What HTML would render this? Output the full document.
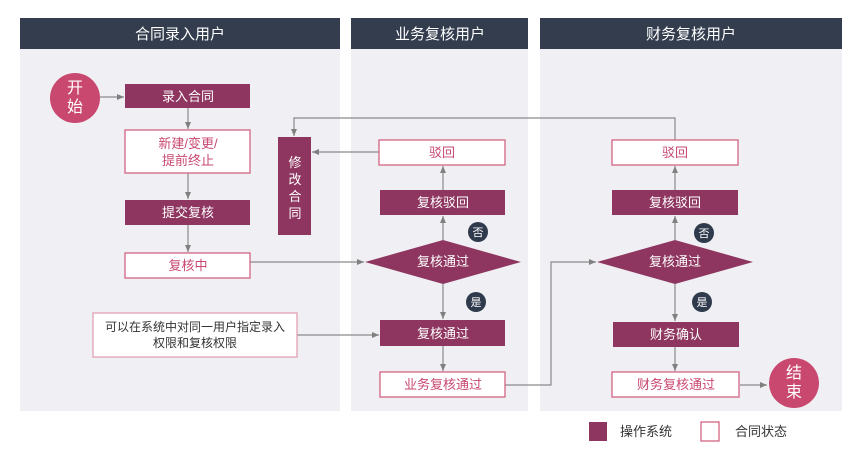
<!DOCTYPE html>
<html><head><meta charset="utf-8"><style>
html,body{margin:0;padding:0;background:#fff;}
svg{display:block;font-family:"Liberation Sans","Noto Sans CJK SC",sans-serif;}
</style></head><body>
<svg width="867" height="460" viewBox="0 0 867 460" xmlns="http://www.w3.org/2000/svg">
<defs>
<marker id="a" markerWidth="8" markerHeight="8" refX="7" refY="4" orient="auto" markerUnits="userSpaceOnUse">
<path d="M0,1 L7,4 L0,7 z" fill="#808080"/></marker>
</defs>
<!-- lanes -->
<rect x="20" y="49" width="320" height="362" fill="#f0f0f4"/>
<rect x="351" y="49" width="177" height="362" fill="#f0f0f4"/>
<rect x="540" y="49" width="302" height="362" fill="#f0f0f4"/>
<rect x="20" y="18" width="320" height="31" fill="#333d4e"/>
<rect x="351" y="18" width="177" height="31" fill="#333d4e"/>
<rect x="540" y="18" width="302" height="31" fill="#333d4e"/>
<g fill="#fff" font-size="15" text-anchor="middle">
<text x="180" y="39">合同录入用户</text>
<text x="440" y="39">业务复核用户</text>
<text x="691" y="39">财务复核用户</text>
</g>
<!-- connectors -->
<g stroke="#8a8a8a" stroke-width="1.2" fill="none">
<line x1="100" y1="97" x2="124" y2="97" marker-end="url(#a)"/>
<line x1="188" y1="108" x2="188" y2="129" marker-end="url(#a)"/>
<line x1="188" y1="173" x2="188" y2="199" marker-end="url(#a)"/>
<line x1="188" y1="225" x2="188" y2="252" marker-end="url(#a)"/>
<line x1="250" y1="262" x2="364" y2="262" marker-end="url(#a)"/>
<line x1="297" y1="335" x2="379" y2="335" marker-end="url(#a)"/>
<line x1="379" y1="152" x2="312" y2="152" marker-end="url(#a)"/>
<polyline points="675,140 675,118 294,118 294,136" marker-end="url(#a)"/>
<line x1="443" y1="240" x2="443" y2="216" marker-end="url(#a)"/>
<line x1="443" y1="190" x2="443" y2="166" marker-end="url(#a)"/>
<line x1="443" y1="284" x2="443" y2="319" marker-end="url(#a)"/>
<line x1="443" y1="346" x2="443" y2="371" marker-end="url(#a)"/>
<polyline points="505,385 551,385 551,262 596,262" marker-end="url(#a)"/>
<line x1="675" y1="240" x2="675" y2="216" marker-end="url(#a)"/>
<line x1="675" y1="190" x2="675" y2="166" marker-end="url(#a)"/>
<line x1="675" y1="284" x2="675" y2="321" marker-end="url(#a)"/>
<line x1="675" y1="347" x2="675" y2="371" marker-end="url(#a)"/>
<line x1="740" y1="385" x2="767" y2="385" marker-end="url(#a)"/>
</g>
<!-- filled nodes -->
<g fill="#8e3560">
<rect x="125" y="84" width="125" height="24"/>
<rect x="125" y="200" width="125" height="25"/>
<rect x="278" y="137" width="33" height="98"/>
<rect x="380" y="190" width="125" height="25"/>
<rect x="380" y="320" width="125" height="26"/>
<rect x="612" y="190" width="126" height="25"/>
<rect x="613" y="322" width="126" height="25"/>
<polygon points="365,262 443,240 521,262 443,284"/>
<polygon points="597,262 675,240 753,262 675,284"/>
</g>
<circle cx="75" cy="98" r="25" fill="#c94870"/>
<circle cx="794" cy="383" r="25" fill="#c94870"/>
<!-- outlined -->
<g fill="#fff" stroke="#d26484" stroke-width="1.3">
<rect x="125" y="130" width="125" height="43"/>
<rect x="125" y="253" width="125" height="25"/>
<rect x="379" y="140" width="126" height="25"/>
<rect x="380" y="372" width="125" height="25"/>
<rect x="612" y="140" width="126" height="25"/>
<rect x="612" y="372" width="127" height="25"/>
<rect x="93" y="313" width="204" height="44" stroke="#e0a0b4"/>
</g>
<g fill="#2f3a4c"><circle cx="478" cy="232" r="10"/><circle cx="476" cy="302" r="10"/><circle cx="704" cy="233" r="10"/><circle cx="702" cy="302" r="10"/></g>
<g fill="#fff" font-size="11" text-anchor="middle"><text x="478" y="236">否</text><text x="476" y="306">是</text><text x="704" y="237">否</text><text x="702" y="306">是</text></g>
<!-- texts -->
<g fill="#fff" font-size="13" text-anchor="middle">
<text x="188" y="101">录入合同</text>
<text x="188" y="217">提交复核</text>
<text x="443" y="207">复核驳回</text>
<text x="443" y="266">复核通过</text>
<text x="443" y="338">复核通过</text>
<text x="675" y="207">复核驳回</text>
<text x="675" y="266">复核通过</text>
<text x="676" y="339">财务确认</text>
<text x="295" y="167">修</text><text x="295" y="184">改</text><text x="295" y="201">合</text><text x="295" y="218">同</text>
<text x="75" y="93" font-size="16">开</text><text x="75" y="112" font-size="16">始</text>
<text x="794" y="378" font-size="16">结</text><text x="794" y="397" font-size="16">束</text>
</g>
<g fill="#c94870" font-size="13" text-anchor="middle">
<text x="188" y="148">新建/变更/</text>
<text x="188" y="165">提前终止</text>
<text x="188" y="270">复核中</text>
<text x="442" y="157">驳回</text>
<text x="443" y="389">业务复核通过</text>
<text x="675" y="157">驳回</text>
<text x="676" y="389">财务复核通过</text>
</g>
<g fill="#333" font-size="12" text-anchor="middle">
<text x="195" y="331">可以在系统中对同一用户指定录入</text>
<text x="195" y="347">权限和复核权限</text>
</g>
<rect x="589" y="422" width="18" height="19" fill="#8e3560"/>
<rect x="701" y="422" width="18" height="19" fill="#fff" stroke="#d26484" stroke-width="1.3"/>
<g fill="#333" font-size="13"><text x="620" y="436">操作系统</text><text x="735" y="436">合同状态</text></g>
</svg>
</body></html>
